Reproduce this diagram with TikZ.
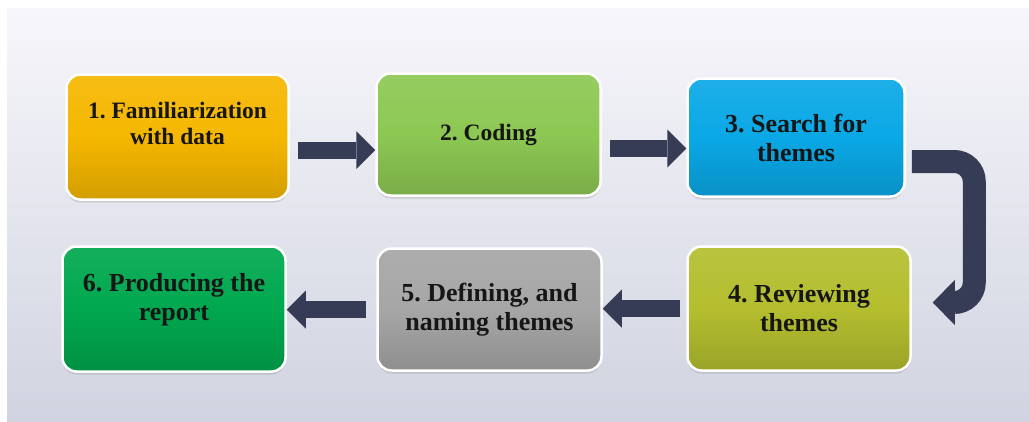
\documentclass[tikz,border=0pt]{standalone}
\usepackage{fontspec}
\setmainfont{Liberation Serif}
\usepackage{xcolor}
\usetikzlibrary{arrows.meta, calc, shadows}
\frenchspacing

\definecolor{bgtop}{HTML}{F7F6FB}
\definecolor{bgbot}{HTML}{D0D4E0}
\definecolor{arrowcol}{HTML}{363B56}
\definecolor{txtcol}{HTML}{161616}
\definecolor{famcol}{HTML}{F5B700}
\definecolor{codcol}{HTML}{8DC853}
\definecolor{searchcol}{HTML}{0AA8E6}
\definecolor{reviewcol}{HTML}{B4BE2E}
\definecolor{definecol}{HTML}{A6A6A6}
\definecolor{reportcol}{HTML}{00A84F}

\begin{document}
\begin{tikzpicture}[
    x=1pt, y=-1pt,
    stage/.style={draw=white, line width=2.5pt, rounded corners=14pt,
        top color=#1!92!white, bottom color=#1!86!black, middle color=#1,
        drop shadow={shadow xshift=0pt, shadow yshift=-3pt, opacity=0.25},
        font=\bfseries\fontsize{26}{29}\selectfont, text=txtcol,
        align=center, inner sep=0pt},
    flowarrow/.style={draw=arrowcol, line width=17pt,
        -{Triangle[width=38pt, length=19pt, line width=0pt]}},
    turnarrow/.style={draw=arrowcol, line width=23pt, rounded corners=20pt,
        -{Triangle[width=45pt, length=22pt, line width=0pt]}}
]

    % Background panel
    \fill[white] (0,0) rectangle (1029,421);
    \useasboundingbox (0,0) rectangle (1029,421);
    \shade[top color=bgtop, bottom color=bgbot] (7,8) rectangle (1029,421);

    % Stages, top row
    \node[stage=famcol, minimum width=222pt, minimum height=125pt,
        font=\bfseries\fontsize{23.5}{26}\selectfont] (fam) at (177.5,137)
        {1. Familiarization\\with data\\[2pt]~};
    \node[stage=codcol, minimum width=224pt, minimum height=122pt,
        font=\bfseries\fontsize{23.5}{26}\selectfont] (cod) at (488.5,134.5)
        {2. Coding};
    \node[stage=searchcol, minimum width=217pt, minimum height=118pt] (search) at (796,137.5)
        {3. Search for\\themes};

    % Stages, bottom row
    \node[stage=reviewcol, minimum width=223pt, minimum height=124pt] (review) at (799,308.5)
        {4. Reviewing\\themes};
    \node[stage=definecol, minimum width=224pt, minimum height=122pt] (define) at (489.5,309.5)
        {5. Defining, and\\naming themes};
    \node[stage=reportcol, minimum width=223pt, minimum height=125pt] (report) at (174,309)
        {6. Producing the\\report\\[-5pt]~};

    % Arrows
    \coordinate (a12) at ($(fam.east)+(8,13)$);
    \draw[flowarrow] (a12) -- (a12 -| cod.west);
    \coordinate (a23) at ($(cod.east)+(8,14)$);
    \draw[flowarrow] (a23) -- (a23 -| search.west);

    \coordinate (a34) at ($(search.east)+(6,24)$);
    \coordinate (b34) at ($(review.east)+(21,-6)$);
    \draw[turnarrow] (a34) -| ($(a34)!0.5!(b34) + (52,0)$) |- (b34);

    \coordinate (a45) at ($(review.west)+(-6,0)$);
    \draw[flowarrow] (a45) -- (a45 -| define.east);
    \coordinate (a56) at ($(define.west)+(-10,0)$);
    \draw[flowarrow] (a56) -- (a56 -| report.east);

\end{tikzpicture}
\end{document}
